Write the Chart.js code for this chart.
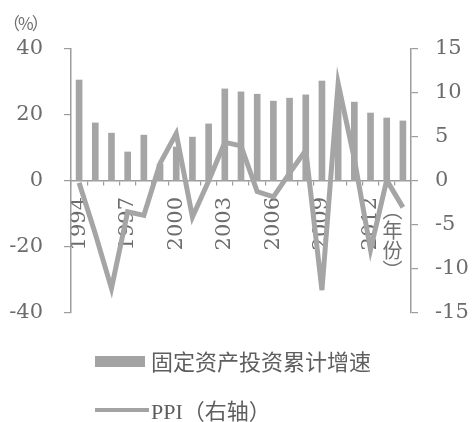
<!DOCTYPE html>
<html>
<head>
<meta charset="utf-8">
<script src="https://cdn.jsdelivr.net/npm/chart.js@4.4.1/dist/chart.umd.min.js"></script>
<style>
  html, body { margin: 0; padding: 0; background: #fff; }
  #wrap { position: relative; width: 474px; height: 422px; overflow: hidden; }
  #c { position: absolute; left: 0; top: 0; }
  .unit { position: absolute; left: 3px; top: 10px; font: 17px "Noto Sans CJK SC"; color: #6e6e6e; letter-spacing: -2px; }
  .yearTitle { position: absolute; left: 381px; top: 200px; font: 20px "Noto Sans CJK SC"; color: #707070;
               writing-mode: vertical-rl; line-height: 22px; }
  .lg { position: absolute; left: 95px; font: 22px "Liberation Serif", "Noto Sans CJK SC"; color: #5e5e5e; white-space: nowrap; }
  .lg .sw { position: absolute; left: 0; }
  .lg span { position: absolute; left: 56px; top: 0; line-height: 26px; }
</style>
</head>
<body>
<div id="wrap">
  <canvas id="c" width="474" height="422"></canvas>
  <div class="unit">（%）</div>
  <div class="yearTitle">（年份）</div>
  <div class="lg" style="top:347px;">
    <div class="sw" style="top:9px;width:50px;height:11px;background:#a3a3a3;"></div>
    <span style="font-family:'Noto Sans CJK SC';">固定资产投资累计增速</span>
  </div>
  <div class="lg" style="top:396px;">
    <div class="sw" style="top:12px;width:54px;height:4px;background:#a3a3a3;"></div>
    <span>PPI<span style="position:static;font-family:'Noto Sans CJK SC';">（右轴）</span></span>
  </div>
</div>
<script>
// Years on the category axis
const years = ['1994','1995','1996','1997','1998','1999','2000','2001','2002','2003','2004',
               '2005','2006','2007','2008','2009','2010','2011','2012','2013','2014'];
// Fixed-asset investment cumulative growth, % (left axis)
const investGrowth = [30.6, 17.6, 14.5, 8.8, 13.9, 5.1, 10.3, 13.3, 17.3, 27.9, 27.0,
                      26.3, 24.2, 25.1, 26.1, 30.3, 24.5, 23.9, 20.6, 19.1, 18.2];
// PPI, % (right axis)
const ppi = [-0.2, -6.0, -12.2, -3.5, -3.9, 2.0, 5.4, -4.1, 0.0, 4.4, 4.0,
             -1.2, -1.8, 0.9, 3.5, -12.4, 11.1, 2.5, -7.8, 0.1, -3.0];
// Axis ranges and tick spacing
const leftTicks = { min: -40, max: 40, step: 20 };
const rightTicks = { min: -15, max: 15, step: 5 };
const labelEvery = 3;

const axisColor = '#9c9c9c';
const textColor = '#6c6c6c';
const markColor = '#a5a5a5';
const serif = "'DejaVu Serif', serif";
const numFont = { family: serif, size: 21 };

new Chart(document.getElementById('c'), {
  type: 'bar',
  data: {
    labels: years,
    datasets: [
      {
        type: 'line',
        label: 'PPI（右轴）',
        data: ppi,
        yAxisID: 'y1',
        borderColor: markColor,
        borderWidth: 5,
        pointRadius: 0,
        tension: 0,
        borderJoinStyle: 'miter',
        order: 0
      },
      {
        type: 'bar',
        label: '固定资产投资累计增速',
        data: investGrowth,
        yAxisID: 'y',
        backgroundColor: markColor,
        barThickness: 6,
        order: 1
      }
    ]
  },
  options: {
    responsive: false,
    animation: false,
    layout: { padding: { top: 49, bottom: 109, left: 0, right: 0 } },
    plugins: { legend: { display: false }, tooltip: { enabled: false } },
    scales: {
      x: {
        position: { y: 0 },
        offset: true,
        grid: { display: true, offset: true, drawOnChartArea: false, drawTicks: true,
                tickLength: 4, color: axisColor, lineWidth: 1.2 },
        border: { display: true, color: axisColor, width: 1.5 },
        ticks: {
          autoSkip: false, minRotation: 90, maxRotation: 90, padding: 12,
          color: textColor, font: { family: serif, size: 21 },
          callback: (v, i) => (i % labelEvery === 0 ? years[i] : '')
        }
      },
      y: {
        position: 'left',
        min: leftTicks.min, max: leftTicks.max,
        afterFit: s => { s.width = 71; },
        grid: { drawOnChartArea: false, drawTicks: true, tickLength: 7, color: axisColor, lineWidth: 1.2 },
        border: { display: true, color: axisColor, width: 1.5 },
        ticks: { stepSize: leftTicks.step, padding: 21, color: textColor, font: numFont }
      },
      y1: {
        position: 'right',
        min: rightTicks.min, max: rightTicks.max,
        afterFit: s => { s.width = 63; },
        grid: { drawOnChartArea: false, drawTicks: true, tickLength: 7, color: axisColor, lineWidth: 1.2 },
        border: { display: true, color: axisColor, width: 1.5 },
        ticks: { stepSize: rightTicks.step, padding: 17, color: textColor, font: numFont }
      }
    }
  }
});
</script>
</body>
</html>
